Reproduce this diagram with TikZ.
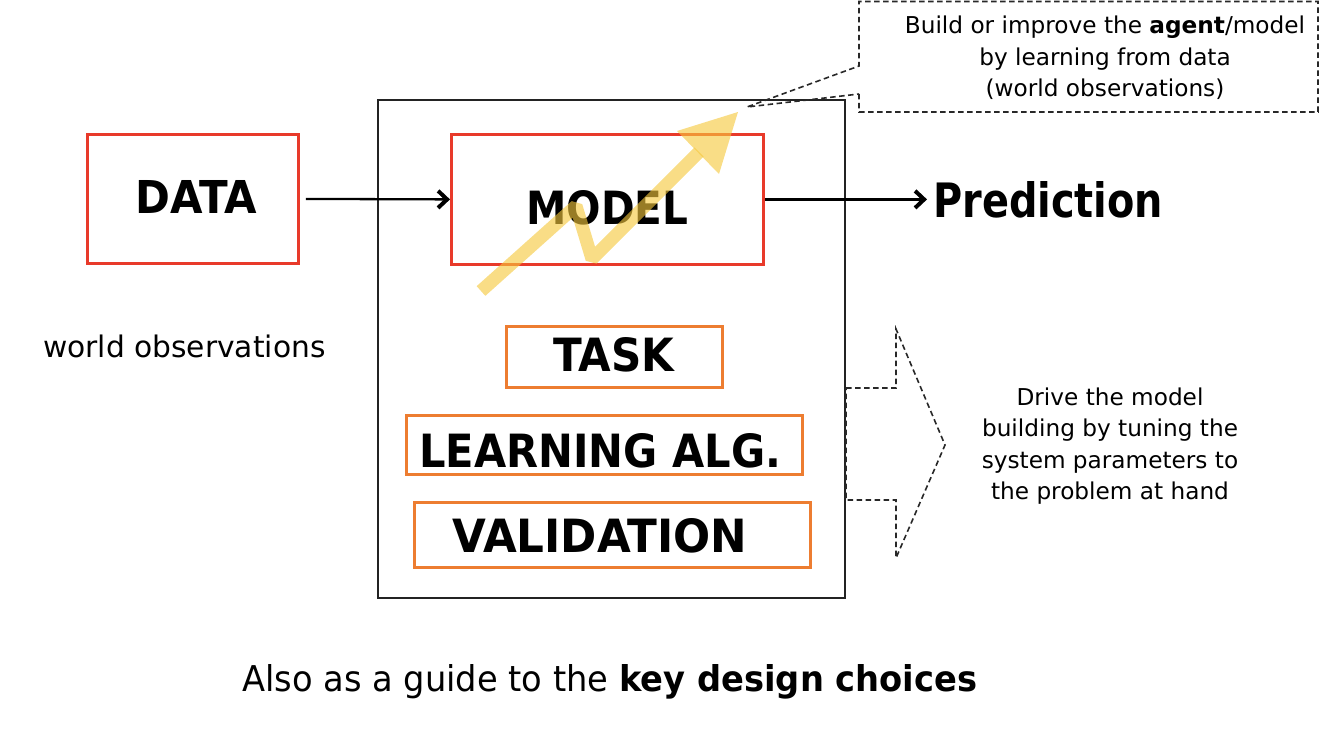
\documentclass[tikz,border=0pt]{standalone}
\usepackage{fontspec}
\setmainfont{DejaVu Sans}
\usepackage{graphicx}
\usetikzlibrary{arrows.meta}

\definecolor{boxred}{RGB}{232,58,42}
\definecolor{boxorange}{RGB}{237,125,49}
\definecolor{framegray}{RGB}{35,35,35}
\definecolor{dashgray}{RGB}{40,40,40}
\definecolor{trend}{RGB}{245,200,60}

\tikzset{
  redbox/.style={draw=boxred, line width=2.8pt, inner sep=0pt, anchor=north west},
  orangebox/.style={draw=boxorange, line width=2.8pt, inner sep=0pt, anchor=north west},
  framebox/.style={draw=framegray, line width=1.8pt, inner sep=0pt, anchor=north west},
  lbl/.style={inner sep=0pt, anchor=base west},
  flow/.style={draw=black, line width=2.3pt,
    -{Straight Barb[length=9pt, width=17pt, line width'=4pt]}},
  hint/.style={draw=dashgray, line width=1.6pt, dash pattern=on 5.5pt off 3.5pt},
  note/.style={inner sep=0pt, align=center, font=\fontsize{23.2}{31.5}\selectfont},
}

\begin{document}
\begin{tikzpicture}[x=1pt, y=-1pt]
  \useasboundingbox (0,0) rectangle (1321,730);

  % outer system frame
  \node[framebox, minimum width=467pt, minimum height=498pt] (system) at (377,99) {};

  % input, model and output
  \node[redbox, minimum width=211pt, minimum height=129pt] (databox) at (86,133) {};
  \node[lbl] (datatext) at (135,213) {\resizebox{122pt}{33pt}{\bfseries DATA}};

  \node[redbox, minimum width=312pt, minimum height=130pt] (modelbox) at (450,133) {};
  \node[lbl] (modeltext) at (526,224) {\resizebox{162pt}{34pt}{\bfseries MODEL}};

  \node[lbl] (prediction) at (933,217) {\resizebox{230pt}{36pt}{\bfseries Prediction}};

  \node[lbl] (worldobs) at (43,357) {\fontsize{29.7}{34}\selectfont world observations};

  % design choices
  \node[orangebox, minimum width=216pt, minimum height=61pt] (taskbox) at (505,325) {};
  \node[lbl] (tasktext) at (553,371) {\resizebox{121pt}{34pt}{\bfseries TASK}};

  \node[orangebox, minimum width=396pt, minimum height=59pt] (algbox) at (405,414) {};
  \node[lbl] (algtext) at (419,467) {\resizebox{362pt}{34pt}{\bfseries LEARNING ALG.}};

  \node[orangebox, minimum width=396pt, minimum height=65pt] (valbox) at (413,501) {};
  \node[lbl] (valtext) at (452,552) {\resizebox{295pt}{34pt}{\bfseries VALIDATION}};

  % data flow
  \draw[flow, shorten <=6pt] (databox.east) -- (modelbox.west);
  \draw[flow, shorten >=6pt] (modelbox.east) -- (modelbox.east -| prediction.west);

  % learning trend arrow
  \coordinate (trendstart) at (481,291);
  \coordinate (trendpeak) at (576,206);
  \coordinate (trenddip) at (592,259);
  \coordinate (trendbase) at (699,152);
  \coordinate (trendtip) at (738,112);
  \draw[trend, opacity=0.62, line width=13pt, line join=bevel, line cap=butt]
    (trendstart) -- (trendpeak) -- (trenddip) -- (trendbase);
  \fill[trend, opacity=0.62] (677,131) -- (trendtip) -- (719,174) -- cycle;

  % callout about learning from data
  \draw[hint] (859,94) -- (859,112) -- (1318,112) -- (1318,1.5) -- (859,1.5) -- (859,66)
    -- (747,107) -- cycle;
  \node[note] (learnnote) at (1105,58)
    {Build or improve the \textbf{agent}/model\\by learning from data\\(world observations)};

  % block arrow for the tuning hint
  \draw[hint] (846,388) -- (896,388) -- (896,329) -- (945,445) -- (896,558)
    -- (896,500) -- (846,500) -- cycle;
  \node[note] (tunenote) at (1110,446)
    {Drive the model\\building by tuning the\\system parameters to\\the problem at hand};

  % caption
  \node[lbl] (caption) at (242,691)
    {\resizebox{735pt}{27pt}{Also as a guide to the \textbf{key design choices}}};
\end{tikzpicture}
\end{document}
